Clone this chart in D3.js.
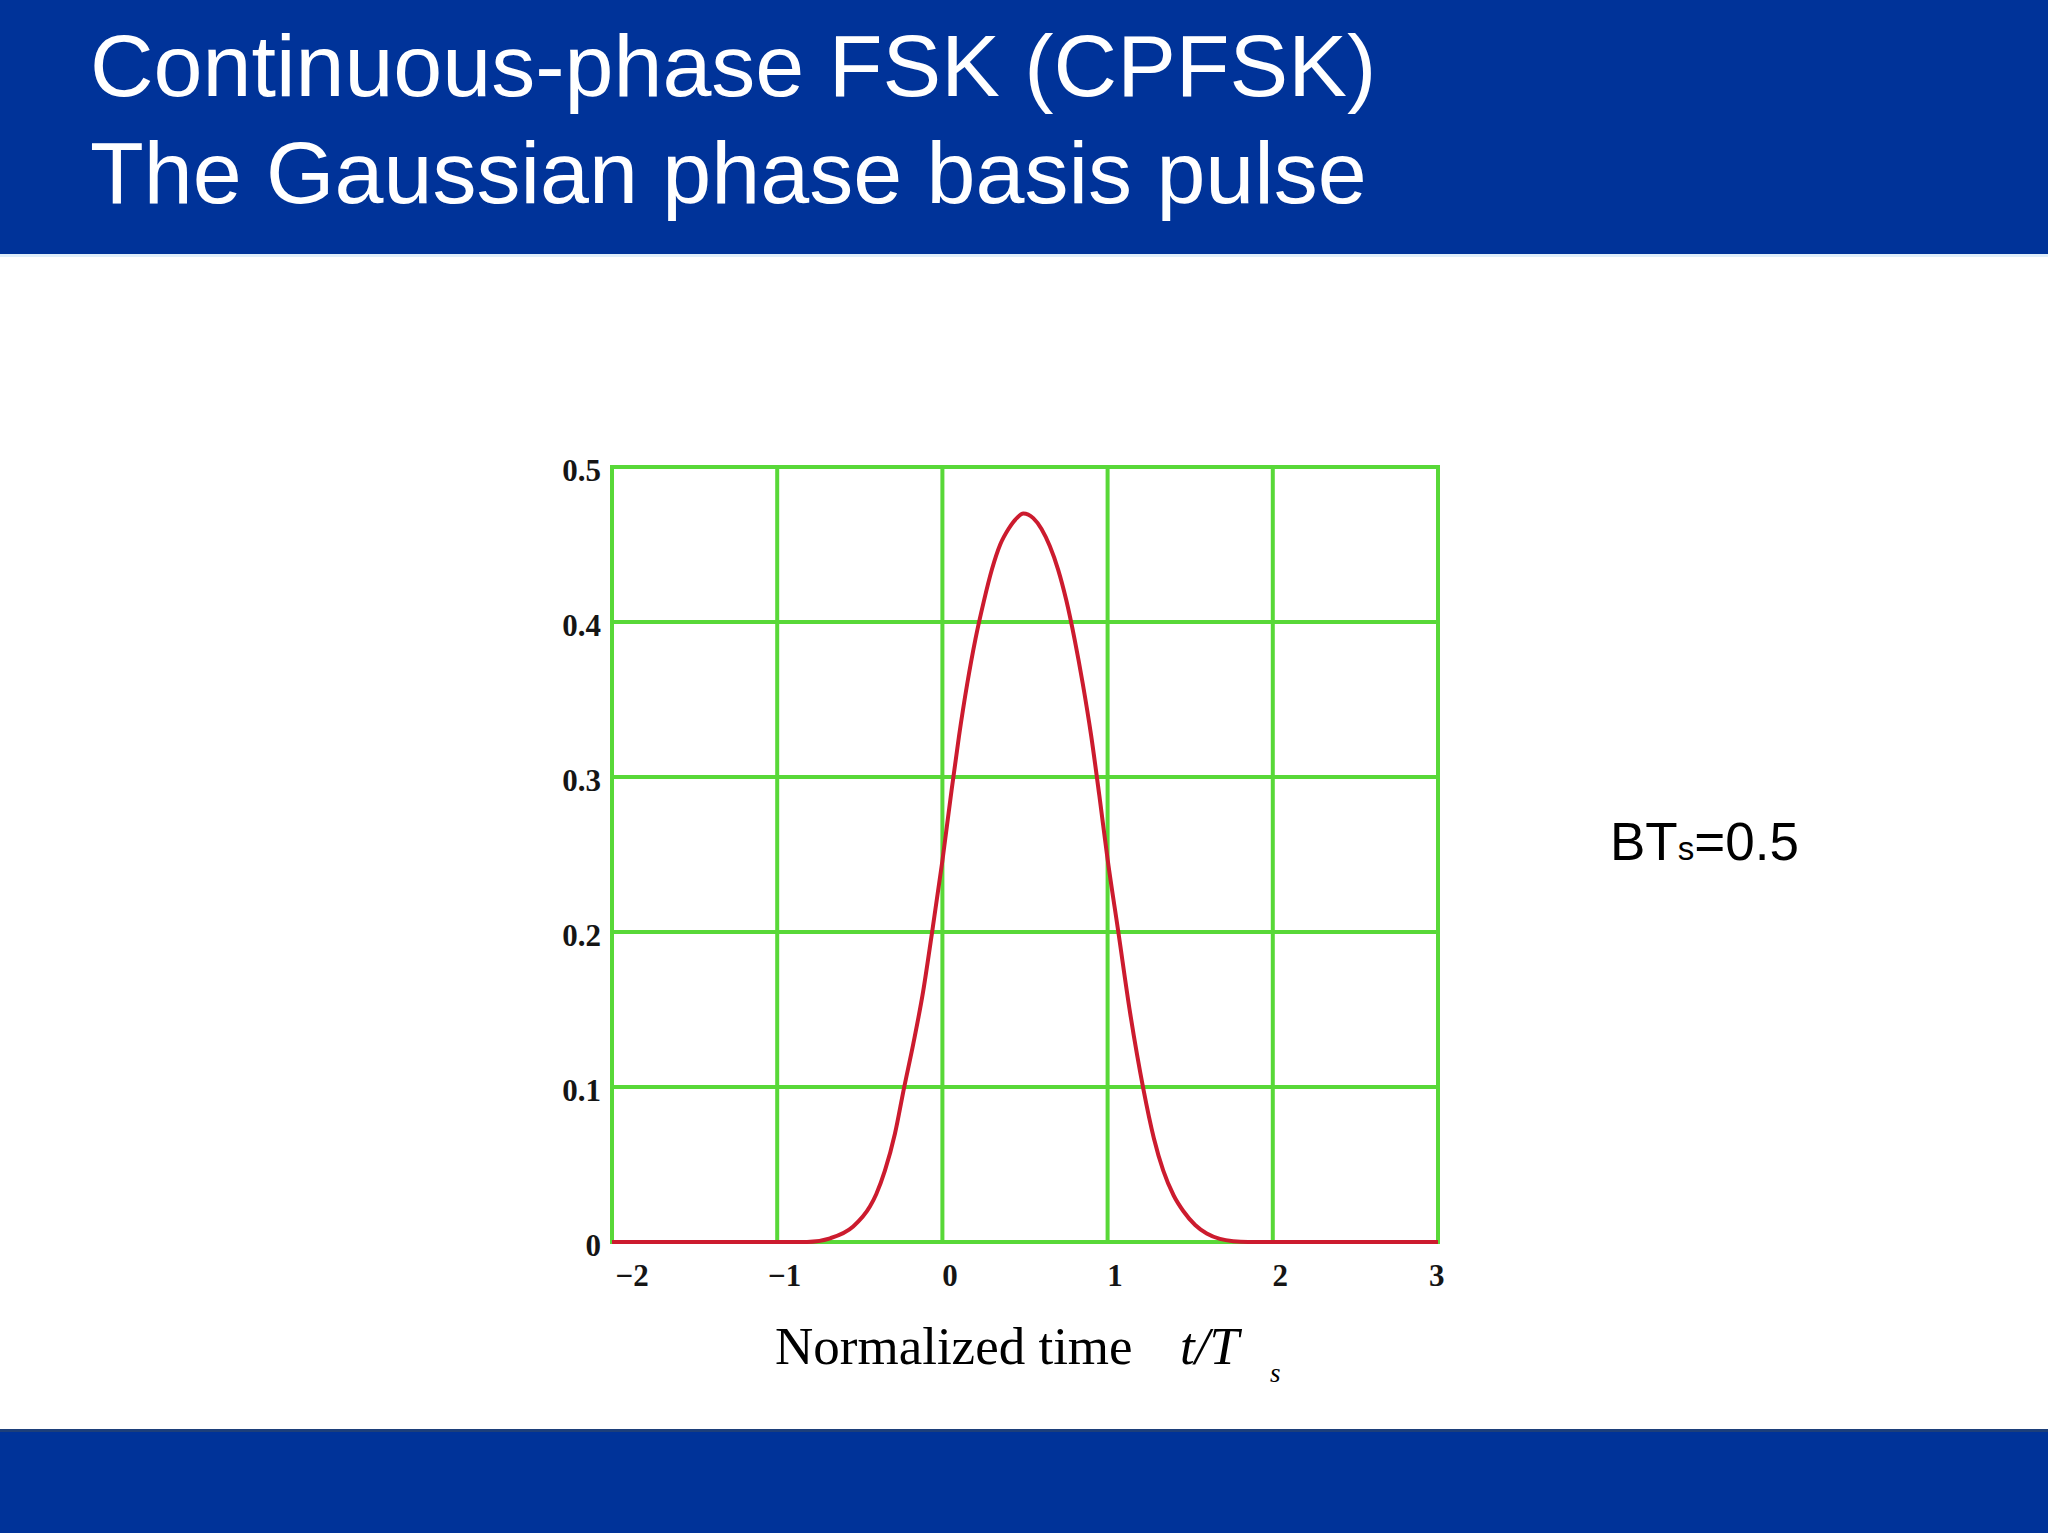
<!DOCTYPE html>
<html>
<head>
<meta charset="utf-8">
<script src="https://cdn.jsdelivr.net/npm/d3@7"></script>
<style>
  html, body { margin: 0; padding: 0; background: #fff; }
  svg { display: block; }
</style>
</head>
<body>
<div id="chart"></div>
<script>
// Gaussian phase basis pulse, BTs = 0.5
const timeValues = [-2, -1, -0.82, -0.68, -0.54, -0.438, -0.40, -0.348, -0.287, -0.233, -0.176, -0.116, -0.065,
  0.0, 0.05, 0.10, 0.15, 0.20, 0.25, 0.30, 0.35, 0.40, 0.45, 0.49, 0.55, 0.60, 0.65, 0.70, 0.75,
  0.80, 0.85, 0.90, 0.95, 1.0, 1.065, 1.136, 1.216, 1.28, 1.337, 1.40, 1.458, 1.53, 1.6, 1.68, 1.76, 1.85, 3];
const pulseValues = [0, 0, 0, 0.0024, 0.010, 0.023, 0.031, 0.046, 0.070, 0.099, 0.128, 0.162, 0.198,
  0.246, 0.287, 0.326, 0.360, 0.389, 0.413, 0.434, 0.450, 0.460, 0.467, 0.470, 0.467, 0.460, 0.449, 0.434, 0.414,
  0.389, 0.360, 0.327, 0.288, 0.247, 0.200, 0.148, 0.099, 0.067, 0.046, 0.030, 0.020, 0.011, 0.0055, 0.002, 0.0005, 0, 0];

const xTicks = [-2, -1, 0, 1, 2, 3];
const yTicks = [0, 0.1, 0.2, 0.3, 0.4, 0.5];
const titleLines = ["Continuous-phase FSK (CPFSK)", "The Gaussian phase basis pulse"];

const width = 2048;
const height = 1536;
const blue = "#003399";
const green = "#58d838";
const red = "#cc1b2e";

const svg = d3.select("#chart")
    .append("svg")
    .attr("width", width)
    .attr("height", height);

// header and footer bands
svg.append("rect").attr("x", 0).attr("y", 0).attr("width", width).attr("height", 254).attr("fill", blue);
svg.append("rect").attr("x", 0).attr("y", 254).attr("width", width).attr("height", 3).attr("fill", "#dfeefa");
svg.append("rect").attr("x", 0).attr("y", 1429).attr("width", width).attr("height", 3).attr("fill", "#1d3f7a");
svg.append("rect").attr("x", 0).attr("y", 1432).attr("width", width).attr("height", 101).attr("fill", blue);

svg.append("g")
    .selectAll("text")
    .data(titleLines)
    .enter().append("text")
    .attr("x", 90)
    .attr("y", (d, i) => 96 + i * 107)
    .attr("fill", "#fff")
    .attr("font-family", "'Liberation Sans', Arial, sans-serif")
    .attr("font-size", 88)
    .text(d => d);

// scales
const x = d3.scaleLinear().domain([-2, 3]).range([612, 1438]);
const y = d3.scaleLinear().domain([0, 0.5]).range([1242, 467]);

// grid
const grid = svg.append("g").attr("class", "grid");
grid.selectAll("line.v")
    .data(xTicks)
    .enter().append("line")
    .attr("class", "v")
    .attr("x1", d => x(d)).attr("x2", d => x(d))
    .attr("y1", y(0.5) - 2).attr("y2", y(0) + 2)
    .attr("stroke", green)
    .attr("stroke-width", 4);
grid.selectAll("line.h")
    .data(yTicks)
    .enter().append("line")
    .attr("class", "h")
    .attr("x1", x(-2) - 2).attr("x2", x(3) + 2)
    .attr("y1", d => y(d)).attr("y2", d => y(d))
    .attr("stroke", green)
    .attr("stroke-width", 4);

// axes (labels only)
const tickFont = "'Liberation Serif', 'Times New Roman', serif";

const xAxis = svg.append("g")
    .attr("transform", `translate(0,${y(0)})`)
    .call(d3.axisBottom(x).tickValues(xTicks).tickSize(0).tickPadding(0)
        .tickFormat(d => d < 0 ? "\u2212" + Math.abs(d) : d));
xAxis.select(".domain").remove();
xAxis.selectAll("text")
    .attr("y", 44)
    .attr("dy", 0)
    .attr("font-family", tickFont)
    .attr("font-weight", "bold")
    .attr("font-size", 31)
    .attr("fill", "#151515")
    .attr("text-anchor", (d, i) => i === 0 ? "start" : (i === xTicks.length - 1 ? "end" : "middle"))
    .attr("dx", (d, i) => i === 0 ? 3 : (i === xTicks.length - 1 ? 6 : 7));

const yAxis = svg.append("g")
    .attr("transform", `translate(${x(-2)},0)`)
    .call(d3.axisLeft(y).tickValues(yTicks).tickSize(0).tickPadding(11)
        .tickFormat(d => d === 0 ? "0" : d3.format(".1f")(d)));
yAxis.select(".domain").remove();
yAxis.selectAll("text")
    .attr("dy", 13)
    .attr("font-family", tickFont)
    .attr("font-weight", "bold")
    .attr("font-size", 31)
    .attr("fill", "#151515");

// pulse curve
const points = timeValues.map((t, i) => [t, pulseValues[i]]);
const line = d3.line()
    .x(d => x(d[0]))
    .y(d => y(d[1]))
    .curve(d3.curveMonotoneX);

svg.append("path")
    .datum(points)
    .attr("d", line)
    .attr("fill", "none")
    .attr("stroke", red)
    .attr("stroke-width", 4)
    .attr("stroke-linejoin", "round");

// x axis title
const xTitle = svg.append("text")
    .attr("x", 775)
    .attr("y", 1364)
    .attr("font-family", tickFont)
    .attr("font-size", 53)
    .attr("fill", "#000");
xTitle.append("tspan").text("Normalized time");
xTitle.append("tspan").attr("x", 1180).attr("font-style", "italic").text("t/T");
xTitle.append("tspan").attr("x", 1270).attr("y", 1382).attr("font-style", "italic")
    .attr("font-size", 27).text("s");

// BTs label
const bt = svg.append("text")
    .attr("x", 1610)
    .attr("y", 860)
    .attr("font-family", "'Liberation Sans', Arial, sans-serif")
    .attr("font-size", 53)
    .attr("fill", "#000");
bt.append("tspan").text("BT");
bt.append("tspan").attr("font-size", 33).text("s");
bt.append("tspan").text("=0.5");
</script>
</body>
</html>
